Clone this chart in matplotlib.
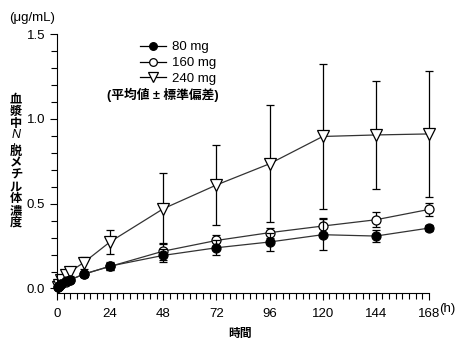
import matplotlib
matplotlib.use("Agg")
import matplotlib.pyplot as plt
from matplotlib.lines import Line2D
from matplotlib.ticker import MultipleLocator

plt.rcParams['font.family'] = ['Liberation Sans', 'Noto Sans CJK JP', 'DejaVu Sans']

# sampling times (h)
hours = [0.5, 1, 2, 4, 6, 12, 24, 48, 72, 96, 120, 144, 168]

# mean plasma conc. (ug/mL) and SD
mean_80 = [0.008, 0.015, 0.028, 0.042, 0.052, 0.083, 0.132, 0.195, 0.24, 0.274, 0.317, 0.309, 0.356]
sd_80 = [0.003, 0.005, 0.008, 0.01, 0.01, 0.015, 0.025, 0.04, 0.045, 0.055, 0.09, 0.035, 0.02]
mean_160 = [0.006, 0.013, 0.025, 0.04, 0.05, 0.085, 0.13, 0.22, 0.283, 0.329, 0.368, 0.405, 0.466]
sd_160 = [0.003, 0.005, 0.008, 0.01, 0.012, 0.015, 0.02, 0.05, 0.03, 0.03, 0.045, 0.045, 0.04]
mean_240 = [0.01, 0.02, 0.05, 0.077, 0.10, 0.152, 0.275, 0.47, 0.61, 0.735, 0.896, 0.905, 0.911]
sd_240 = [0.005, 0.01, 0.02, 0.02, 0.025, 0.035, 0.07, 0.21, 0.235, 0.345, 0.43, 0.32, 0.37]

labels = ['80 mg', '160 mg', '240 mg']
xticks = [0, 24, 48, 72, 96, 120, 144, 168]
xticklabels = ['0', '24', '48', '72', '96', '120', '144', '168']
yticks = [0.0, 0.5, 1.0, 1.5]

fig = plt.figure(figsize=(4.66, 3.46), dpi=100)
ax = fig.add_axes([0.1223, 0.154, 0.7983, 0.7477])

# (mean, sd, marker, face, size, zorder) in 80/160/240 order
series = [
    (mean_80, sd_80, 'o', 'black', 6.5, 4),
    (mean_160, sd_160, 'o', 'white', 6.5, 3),
    (mean_240, sd_240, 'v', 'white', 8.5, 2),
]
handles = []
for m, s, mk, fc, ms, z in series:
    h = ax.errorbar(hours, m, yerr=s, fmt='-', marker=mk, ms=ms, mfc=fc, mec='black',
                    mew=0.9, color='#333333', lw=0.9, ecolor='black', elinewidth=0.9,
                    capsize=3, capthick=0.9, zorder=z, clip_on=False)
    for art in h.lines[1] + h.lines[2]:
        art.set_clip_on(False)
    handles.append(Line2D([], [], color='black', lw=0.9, marker=mk, ms=ms * 0.85,
                          mfc=fc, mec='black', mew=0.9))

ax.set_xlim(0, 168)
ax.set_ylim(-0.025, 1.5)
ax.set_xticks(xticks)
ax.set_xticklabels(xticklabels)
ax.xaxis.set_minor_locator(MultipleLocator(3))
ax.set_yticks(yticks)
ax.set_yticklabels(['%.1f' % v for v in yticks])
ax.yaxis.set_minor_locator(MultipleLocator(0.1))
ax.tick_params(which='both', direction='out', width=0.8, labelsize=9.5, color='black')
ax.tick_params(which='major', length=5)
ax.tick_params(which='minor', length=4)
ax.tick_params(axis='x', pad=6)
for side in ['top', 'right']:
    ax.spines[side].set_visible(False)
for side in ['left', 'bottom']:
    ax.spines[side].set_linewidth(0.8)

leg = fig.legend(handles=handles, labels=labels, loc='upper left',
                 bbox_to_anchor=(140 / 466, 1 - 41 / 346), frameon=False, fontsize=9.5,
                 handlelength=2.0, handletextpad=0.4, labelspacing=0.28, borderpad=0,
                 borderaxespad=0)

fig.text(0.229, 0.725, '(平均値 ± 標準偏差)', fontsize=9.2, fontweight='bold', va='center')
fig.text(0.02, 0.948, '(μg/mL)', fontsize=9.5, va='center')
fig.text(0.515, 0.036, '時間', fontsize=8.5, fontweight='bold', ha='center', va='center')
fig.text(0.942, 0.107, '(h)', fontsize=9.5, va='center')

# vertical y label, one glyph at a time
ylab = [('血', 11.8), ('漿', 11.8), ('中', 11.8), ('N', 10.5), ('-', 6), ('脱', 11.8),
        ('メ', 11.8), ('チ', 11.8), ('ル', 11.8), ('体', 11.8), ('濃', 11.8), ('度', 11.8)]
ypix = 94
for ch, step in ylab:
    kw = dict(fontsize=8.8, ha='center', va='center', fontweight='bold')
    if ch == 'N':
        kw['style'] = 'italic'
        kw['fontweight'] = 'normal'
        kw['fontsize'] = 9
    if ch == '-':
        kw['rotation'] = 90
        kw['fontsize'] = 7
    fig.text(16 / 466, 1 - (ypix + step / 2) / 346, ch, **kw)
    ypix += step

fig.savefig('out.png', dpi=100)
